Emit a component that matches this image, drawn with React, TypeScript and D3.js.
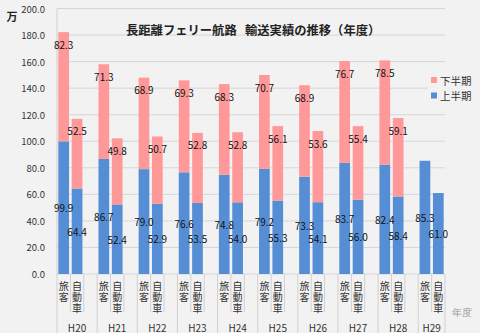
import React from "react";
import * as d3 from "d3";

const years = ["H20", "H21", "H22", "H23", "H24", "H25", "H26", "H27", "H28", "H29"];
const subCats = ["旅客", "自動車"];
const passengerFirst = [99.9, 86.7, 79.0, 76.6, 74.8, 79.2, 73.3, 83.7, 82.4, 85.3];
const passengerSecond: (number | null)[] = [82.3, 71.3, 68.9, 69.3, 68.3, 70.7, 68.9, 76.7, 78.5, null];
const vehicleFirst = [64.4, 52.4, 52.9, 53.5, 54.0, 55.3, 54.1, 56.0, 58.4, 61.0];
const vehicleSecond: (number | null)[] = [52.5, 49.8, 50.7, 52.8, 52.8, 56.1, 53.6, 55.4, 59.1, null];
const yTicks = [0, 20, 40, 60, 80, 100, 120, 140, 160, 180, 200];
const seriesNames = ["下半期", "上半期"];
const titleParts = ["長距離フェリー航路", "輸送実績の推移（年度）"];

const W = 480, H = 333;
const PINK = "#FF9999";
const BLUE = "#558ED5";
const FONT = "'Noto Sans CJK JP', 'Noto Sans', sans-serif";

type Slot = { key: string; year: number; sub: number };
const slots: Slot[] = [];
years.forEach((y, i) => {
  slots.push({ key: `${y}-0`, year: i, sub: 0 });
  slots.push({ key: `${y}-1`, year: i, sub: 1 });
  if (i < years.length - 1) slots.push({ key: `${y}-2`, year: i, sub: 2 });
});

export default function App() {
  const x = d3.scaleBand<string>().domain(slots.map(s => s.key)).range([57, 445]).paddingInner(0.2).paddingOuter(0.1);
  const y = d3.scaleLinear().domain([0, 200]).range([274, 8.5]);
  const step = x.step();
  const x0 = 57;

  const bars: JSX.Element[] = [];
  const labels: JSX.Element[] = [];
  slots.forEach(s => {
    if (s.sub === 2) return;
    const first = s.sub === 0 ? passengerFirst[s.year] : vehicleFirst[s.year];
    const second = s.sub === 0 ? passengerSecond[s.year] : vehicleSecond[s.year];
    const bx = x(s.key)!;
    const bw = x.bandwidth();
    const cx = bx + bw / 2;
    bars.push(<rect key={s.key + "b"} x={bx} y={y(first)} width={bw} height={y(0) - y(first)} fill={BLUE} />);
    labels.push(
      <text key={s.key + "bl"} x={cx} y={(y(0) + y(first)) / 2} textAnchor="middle" dominantBaseline="central" fontSize={10} fill="#111">
        {first.toFixed(1)}
      </text>
    );
    if (second != null) {
      const top = y(first + second);
      bars.push(<rect key={s.key + "p"} x={bx} y={top} width={bw} height={y(first) - top} fill={PINK} />);
      labels.push(
        <text key={s.key + "pl"} x={cx} y={top + 12} textAnchor="middle" dominantBaseline="central" fontSize={10} fill="#111">
          {second.toFixed(1)}
        </text>
      );
    }
  });

  // category axis tick lines
  const ticks: JSX.Element[] = [];
  for (let i = 0; i <= slots.length; i++) {
    const tx = x0 + i * step;
    const isGroup = i === 0 || i === slots.length || slots[i - 1].sub === 2;
    ticks.push(<line key={"t" + i} x1={tx} x2={tx} y1={274} y2={isGroup ? 333 : 312} stroke="#D0D0D0" strokeWidth={1} />);
  }

  const catLabels: JSX.Element[] = [];
  slots.forEach(s => {
    if (s.sub === 2) return;
    const cx = x(s.key)! + x.bandwidth() / 2;
    catLabels.push(
      <text key={s.key + "c"} x={cx} y={281.5} fontSize={10} fill="#333"
        style={{ writingMode: "vertical-rl", letterSpacing: "1px" }}>
        {subCats[s.sub]}
      </text>
    );
  });

  const yearLabels = years.map((yr, i) => {
    const groupSlots = slots.filter(s => s.year === i);
    const left = x0 + slots.indexOf(groupSlots[0]) * step;
    const right = left + groupSlots.length * step;
    return (
      <text key={yr} x={(left + right) / 2} y={327} textAnchor="middle" dominantBaseline="central" fontSize={10} fill="#333">
        {yr}
      </text>
    );
  });

  return (
    <div style={{ position: "fixed", left: 0, top: 0 }}>
      <svg width={W} height={H} style={{ display: "block", fontFamily: FONT }}>
        <rect x={0} y={0} width={W} height={H} fill="#F2F2F2" />
        {yTicks.map(t => (
          <g key={t}>
            <line x1={57} x2={445} y1={y(t)} y2={y(t)} stroke="#D6D6D6" strokeWidth={1} />
            <text x={45} y={y(t)} textAnchor="end" dominantBaseline="central" fontSize={9.5} fill="#333">
              {t.toFixed(1)}
            </text>
          </g>
        ))}
        <line x1={57} x2={57} y1={y(200)} y2={274} stroke="#D0D0D0" />
        {ticks}
        {bars}
        {labels}
        {catLabels}
        {yearLabels}
        <text x={12} y={16} textAnchor="middle" dominantBaseline="central" fontSize={11} fontWeight="bold" fill="#222">万</text>
        <text x={126} y={30} dominantBaseline="central" fontSize={12.3} fontWeight="bold" fill="#222">{titleParts[0]}</text>
        <text x={245} y={30} dominantBaseline="central" fontSize={12.3} fontWeight="bold" fill="#222">{titleParts[1]}</text>
        <rect x={428} y={70} width={52} height={36} fill="#F2F2F2" />
        {seriesNames.map((n, i) => (
          <g key={n}>
            <rect x={431} y={77 + i * 15.5} width={6} height={6} fill={i === 0 ? PINK : BLUE} />
            <text x={440} y={80 + i * 15.5} dominantBaseline="central" fontSize={10.5} fill="#333">{n}</text>
          </g>
        ))}
        <text x={452} y={313} dominantBaseline="central" fontSize={9.5} fill="#999" fontFamily="serif">年度</text>
      </svg>
    </div>
  );
}
